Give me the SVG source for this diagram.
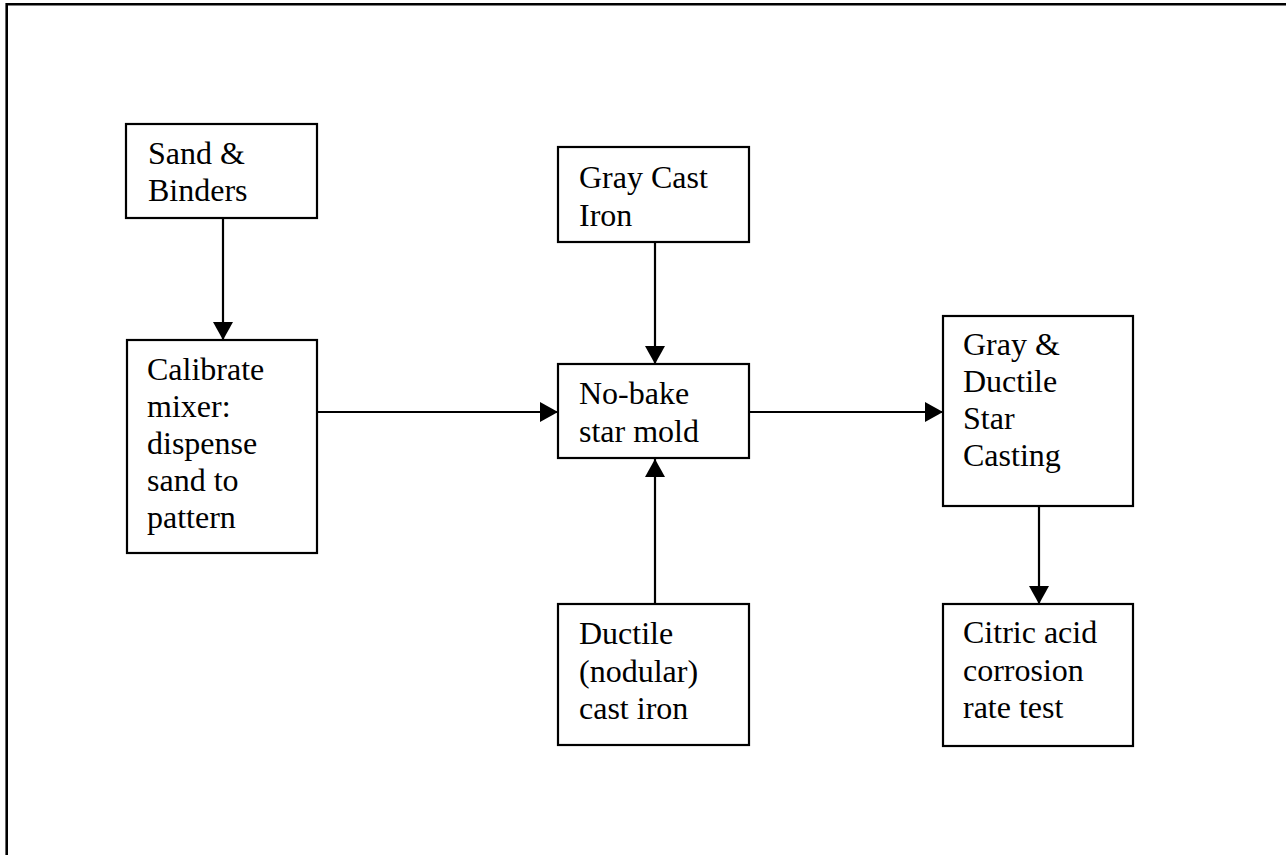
<svg xmlns="http://www.w3.org/2000/svg" width="1286" height="855" viewBox="0 0 1286 855">
<style>
.box{fill:#fff;stroke:#000;stroke-width:2.2}
.lbl{font-family:"Liberation Serif","Times New Roman",serif;font-size:32px;fill:#000}
.conn{stroke:#000;stroke-width:2.2;fill:none;marker-end:url(#ah)}
.frame{stroke:#000;stroke-width:2.6;fill:none}
</style>
<defs>
<marker id="ah" markerUnits="userSpaceOnUse" markerWidth="20" markerHeight="20" refX="18" refY="10" orient="auto">
<path d="M0,0 L18,10 L0,20 z" fill="#000"/>
</marker>
</defs>
<rect width="1286" height="855" fill="#fff"/>
<path class="frame" d="M6.7,855 V4.3 H1286"/>
<g id="connectors">
<line class="conn" x1="223" y1="218" x2="223" y2="340"/>
<line class="conn" x1="317" y1="412" x2="558" y2="412"/>
<line class="conn" x1="655" y1="242" x2="655" y2="364"/>
<line class="conn" x1="655" y1="604" x2="655" y2="459"/>
<line class="conn" x1="749" y1="412" x2="943" y2="412"/>
<line class="conn" x1="1039" y1="506" x2="1039" y2="604"/>
</g>
<g id="sand">
<rect class="box" x="126" y="124" width="191" height="94"/>
<text class="lbl"><tspan x="148" y="164">Sand &amp;</tspan><tspan x="148" y="201">Binders</tspan></text>
</g>
<g id="calibrate">
<rect class="box" x="127" y="340" width="190" height="213"/>
<text class="lbl"><tspan x="147" y="380">Calibrate</tspan><tspan x="147" y="417">mixer:</tspan><tspan x="147" y="454">dispense</tspan><tspan x="147" y="491">sand to</tspan><tspan x="147" y="528">pattern</tspan></text>
</g>
<g id="gray">
<rect class="box" x="558" y="147" width="191" height="95"/>
<text class="lbl"><tspan x="579" y="188">Gray Cast</tspan><tspan x="579" y="226">Iron</tspan></text>
</g>
<g id="nobake">
<rect class="box" x="558" y="364" width="191" height="94"/>
<text class="lbl"><tspan x="579" y="404">No-bake</tspan><tspan x="579" y="442">star mold</tspan></text>
</g>
<g id="ductile">
<rect class="box" x="558" y="604" width="191" height="141"/>
<text class="lbl"><tspan x="579" y="644">Ductile</tspan><tspan x="579" y="682">(nodular)</tspan><tspan x="579" y="719">cast iron</tspan></text>
</g>
<g id="casting">
<rect class="box" x="943" y="316" width="190" height="190"/>
<text class="lbl"><tspan x="963" y="355">Gray &amp;</tspan><tspan x="963" y="392">Ductile</tspan><tspan x="963" y="429">Star</tspan><tspan x="963" y="466">Casting</tspan></text>
</g>
<g id="citric">
<rect class="box" x="943" y="604" width="190" height="142"/>
<text class="lbl"><tspan x="963" y="643">Citric acid</tspan><tspan x="963" y="681">corrosion</tspan><tspan x="963" y="718">rate test</tspan></text>
</g>
</svg>
